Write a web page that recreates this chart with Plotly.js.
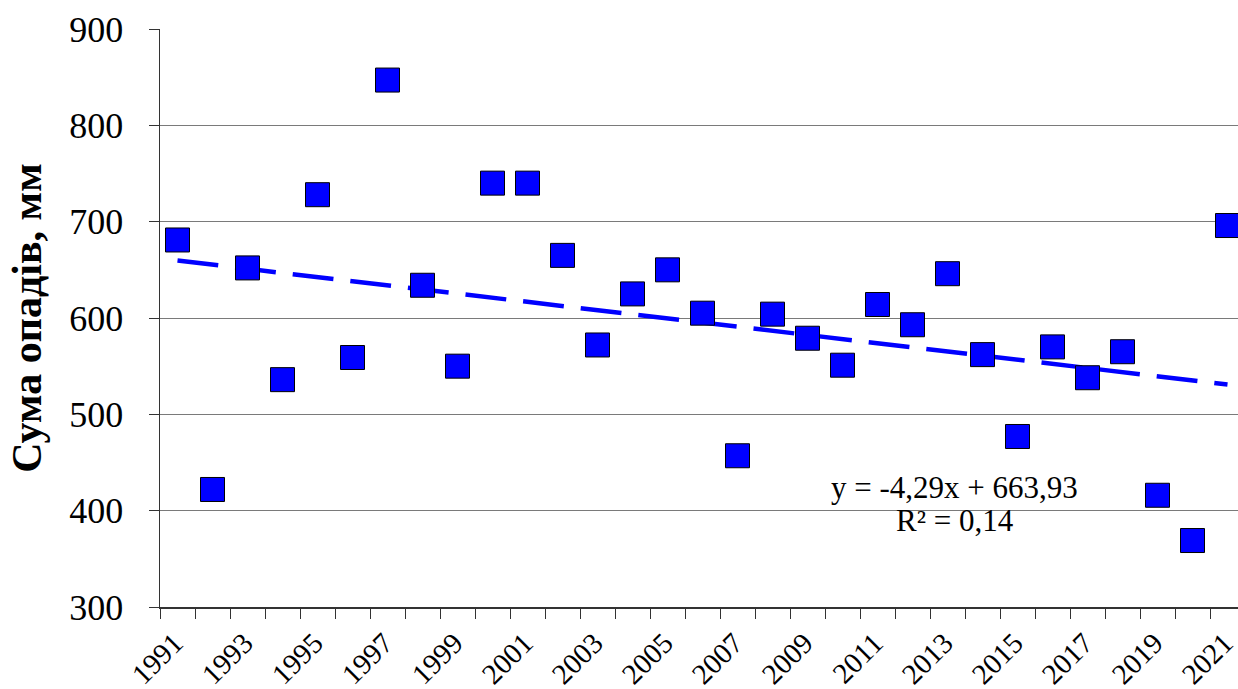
<!DOCTYPE html>
<html>
<head>
<meta charset="utf-8">
<script src="https://cdn.plot.ly/plotly-3.0.1.min.js"></script>
<style>html,body{margin:0;padding:0;background:#fff;}#chart{width:1238px;height:689px;}</style>
</head>
<body>
<div id="chart"></div>
<script>
// Data
const years = [1991,1992,1993,1994,1995,1996,1997,1998,1999,2000,2001,2002,2003,2004,2005,2006,2007,2008,2009,2010,2011,2012,2013,2014,2015,2016,2017,2018,2019,2020,2021];
const precipitation = [681,422,652,536,728,559,847,634,550,740,740,665,572,625,650,605,457,604,579,551,614,593,646,562,477,570,538,565,416,369,696];
const tickYears = [1991,1993,1995,1997,1999,2001,2003,2005,2007,2009,2011,2013,2015,2017,2019,2021];
const yTicks = [300,400,500,600,700,800,900];
// Linear trend shown on the chart: y = -4.29x + 663.93 (x = 1..31)
const trendSlope = -4.29;
const trendIntercept = 663.93;
const equationText = 'y = -4,29x + 663,93';
const r2Text = 'R² = 0,14';
const yTitle = 'Сума опадів, мм';

const trendX = [years[0], years[years.length-1]];
const trendY = trendX.map(yr => trendSlope * (yr - years[0] + 1) + trendIntercept);

const FONT = '"Liberation Serif", "Times New Roman", serif';

const traces = [
  {
    x: trendX, y: trendY, type: 'scatter', mode: 'lines',
    line: {color: '#0000FF', width: 4.5, dash: '41px,17px'},
    hoverinfo: 'skip', showlegend: false
  },
  {
    x: years, y: precipitation, type: 'scatter', mode: 'markers',
    marker: {symbol: 'square', size: 24, color: '#0000FF', line: {color: '#000000', width: 1}},
    showlegend: false
  }
];

const layout = {
  width: 1238, height: 689,
  margin: {l: 160, r: 0, t: 29, b: 82},
  paper_bgcolor: '#ffffff', plot_bgcolor: '#ffffff',
  font: {family: FONT, color: '#000000'},
  showlegend: false,
  xaxis: {
    type: 'linear',
    range: [1990.5, 1990.5 + 1078/35],
    tickmode: 'array', tickvals: tickYears, ticktext: tickYears.map(String),
    ticks: '', tickangle: -45, ticklabelstandoff: 6, ticklabelshift: -3,
    ticklabeloverflow: 'allow',
    tickfont: {family: FONT, size: 29, color: '#000'},
    showgrid: false, zeroline: false,
    showline: true, linecolor: '#333333', linewidth: 1.5,
    minor: {tick0: 1990.5, dtick: 1, ticks: 'outside', ticklen: 10, tickcolor: '#333333', tickwidth: 1, showgrid: false}
  },
  yaxis: {
    range: [300, 900],
    tickmode: 'array', tickvals: yTicks,
    ticks: 'outside', ticklen: 10, tickcolor: '#333333', tickwidth: 1,
    ticklabelstandoff: 18,
    tickfont: {family: FONT, size: 36, color: '#000'},
    showgrid: true, gridcolor: '#7a7a7a', gridwidth: 1,
    zeroline: false,
    showline: true, linecolor: '#333333', linewidth: 1.5,
    title: {text: yTitle, font: {family: FONT, size: 42, color: '#000', weight: 'bold'}, standoff: 14}
  },
  shapes: [
    {type: 'rect', xref: 'paper', yref: 'paper', x0: 0.612, x1: 0.8646, y0: 0.107, y1: 0.2405,
     fillcolor: '#ffffff', line: {width: 0}, layer: 'between'}
  ],
  annotations: [
    {xref: 'paper', yref: 'paper', x: 0.7366, y: 0.2076, text: equationText, showarrow: false,
     xanchor: 'center', yanchor: 'middle', font: {family: FONT, size: 31, color: '#000'}},
    {xref: 'paper', yref: 'paper', x: 0.7375, y: 0.1505, text: r2Text, showarrow: false,
     xanchor: 'center', yanchor: 'middle', font: {family: FONT, size: 31, color: '#000'}}
  ]
};

Plotly.newPlot('chart', traces, layout, {staticPlot: true, displayModeBar: false});
</script>
</body>
</html>
